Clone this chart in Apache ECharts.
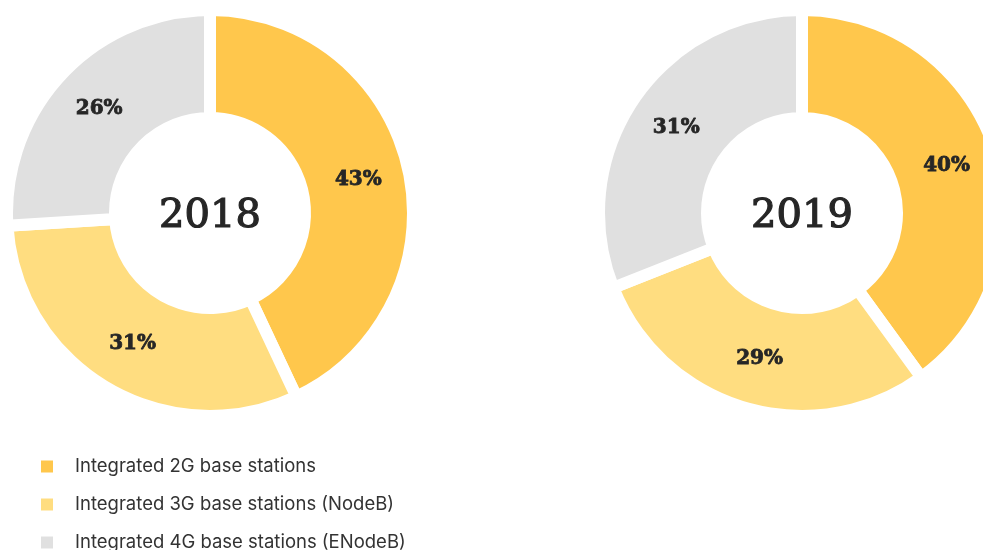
<!DOCTYPE html>
<html>
<head>
<meta charset="utf-8">
<style>
  html, body { margin: 0; padding: 0; background: #ffffff; }
  #chart { width: 983px; height: 550px; }
</style>
<script src="https://cdn.jsdelivr.net/npm/echarts@6/dist/echarts.min.js"></script>
</head>
<body>
<div id="chart"></div>
<script>
// Base station mix by generation, share of total (%)
const categories = [
  'Integrated 2G base stations',
  'Integrated 3G base stations (NodeB)',
  'Integrated 4G base stations (ENodeB)'
];
const years = ['2018', '2019'];
const share2018 = [43, 31, 26];
const share2019 = [40, 29, 31];

const colors = ['#FFC74C', '#FFDD80', '#E0E0E0'];
const centers = [[210, 213], [802, 213]];
const ink = '#262626';

function donut(values, center) {
  return {
    type: 'pie',
    center: center,
    radius: [95, 203],
    startAngle: 90,
    clockwise: true,
    silent: true,
    itemStyle: { borderColor: '#ffffff', borderWidth: 12 },
    label: {
      show: true,
      position: 'inside',
      formatter: '{c}%',
      color: ink,
      fontFamily: 'DejaVu Serif',
      fontWeight: 'bold',
      fontSize: 20,
      textBorderColor: ink,
      textBorderWidth: 0.8
    },
    labelLine: { show: false },
    data: categories.map((name, i) => ({
      name: name,
      value: values[i],
      itemStyle: { color: colors[i] }
    }))
  };
}

// One legend row per category, stacked down the lower left
const legends = categories.map((name, i) => ({
  orient: 'vertical',
  left: 39,
  top: 457 + 38 * i,
  padding: 0,
  icon: 'rect',
  itemWidth: 14,
  itemHeight: 14,
  selectedMode: false,
  data: [name],
  textStyle: {
    fontFamily: 'Inter',
    fontSize: 18.5,
    color: '#333333',
    padding: [0, 0, 0, 16]
  }
}));

const chart = echarts.init(document.getElementById('chart'), null, { renderer: 'canvas' });
chart.setOption({
  animation: false,
  color: colors,
  legend: legends,
  graphic: years.map((y, i) => ({
    type: 'text',
    x: centers[i][0],
    y: centers[i][1] + 4,
    style: {
      text: y,
      fontFamily: 'DejaVu Serif',
      fontSize: 40,
      fill: ink,
      stroke: ink,
      lineWidth: 1.2,
      textAlign: 'center',
      textVerticalAlign: 'middle'
    }
  })),
  series: [donut(share2018, centers[0]), donut(share2019, centers[1])]
});
</script>
</body>
</html>
